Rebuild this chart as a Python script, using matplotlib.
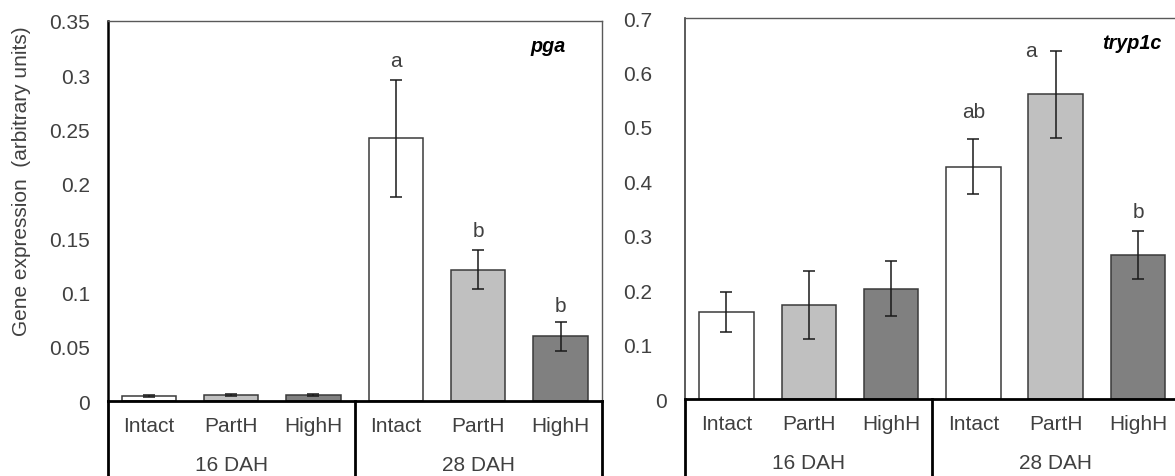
import matplotlib
matplotlib.use("Agg")
import matplotlib.pyplot as plt
from matplotlib.lines import Line2D
from matplotlib.transforms import ScaledTranslation

# ---- data ----
groups = ["16 DAH", "28 DAH"]
treatments = ["Intact", "PartH", "HighH"]

pga_mean = [0.0043, 0.0055, 0.0055, 0.242, 0.121, 0.0596]
pga_err = [0.001, 0.001, 0.001, 0.054, 0.018, 0.0134]
pga_letters = ["", "", "", "a", "b", "b"]

tryp_mean = [0.160, 0.173, 0.203, 0.427, 0.560, 0.264]
tryp_err = [0.036, 0.063, 0.050, 0.050, 0.080, 0.044]
tryp_letters = ["", "", "", "ab", "a", "b"]

pga_ticks = [0, 0.05, 0.1, 0.15, 0.2, 0.25, 0.3, 0.35]
pga_ticklabels = ["0", "0.05", "0.1", "0.15", "0.2", "0.25", "0.3", "0.35"]
tryp_ticks = [0, 0.1, 0.2, 0.3, 0.4, 0.5, 0.6, 0.7]
tryp_ticklabels = ["0", "0.1", "0.2", "0.3", "0.4", "0.5", "0.6", "0.7"]

# ---- style ----
plt.rcParams["font.family"] = ["Liberation Sans", "DejaVu Sans"]
FS = 15
TXT = "#404040"
bar_colors = ["#FFFFFF", "#C0C0C0", "#808080"] * 2
# letter offsets (points) from the top of each error bar
pga_letter_off = [(0, 0), (0, 0), (0, 0), (0, 13.7), (0, 13.9), (0, 11.7)]
tryp_letter_off = [(0, 0), (0, 0), (0, 0), (0, 20.2), (-17.6, 0), (0, 14.4)]

fig = plt.figure(figsize=(11.75, 4.77), dpi=100)
ax1 = fig.add_axes([0.0915, 0.1572, 0.4206, 0.7967])
ax2 = fig.add_axes([0.5832, 0.1614, 0.4203, 0.7987])

x = list(range(6))
xlabels = treatments * 2


def draw_panel(ax, means, errs, letters, offs, ticks, ticklabels, ymax,
               title, title_xy, ypad, left_spine_color, left_spine_lw):
    ax.bar(x, means, width=0.66, color=bar_colors, edgecolor="#3a3a3a",
           linewidth=1.1, zorder=2)
    ax.errorbar(x, means, yerr=errs, fmt="none", ecolor="#1a1a1a",
                elinewidth=1.1, capsize=4.3, capthick=1.1, zorder=3)
    for xi, m, e, lab, off in zip(x, means, errs, letters, offs):
        if lab:
            ax.annotate(lab, (xi, m + e), xytext=off, textcoords="offset points",
                        ha="center", va="center", fontsize=FS, color=TXT)
    ax.set_xlim(-0.5, 5.5)
    ax.set_ylim(0, ymax)
    ax.set_yticks(ticks, ticklabels)
    ax.set_xticks(x, xlabels)
    ax.tick_params(axis="y", length=0, pad=ypad, labelsize=FS, labelcolor=TXT)
    ax.tick_params(axis="x", length=0, pad=17.8, labelsize=FS, labelcolor=TXT)
    for lab in ax.get_xticklabels():
        lab.set_va("center")
    for s in ("top", "right"):
        ax.spines[s].set_color("#595959")
        ax.spines[s].set_linewidth(1.0)
    ax.spines["left"].set_color(left_spine_color)
    ax.spines["left"].set_linewidth(left_spine_lw)
    ax.spines["bottom"].set_color("black")
    ax.spines["bottom"].set_linewidth(2.0)
    # category-axis dividers below the zero line
    for xv in (-0.5, 2.5, 5.5):
        ax.add_line(Line2D([xv, xv], [0, -0.3],
                           transform=ax.get_xaxis_transform(),
                           color="black", linewidth=2.0, clip_on=False))
    # group labels
    for gi, g in enumerate(groups):
        ax.annotate(g, (3 * gi + 1, 0), xycoords=("data", "axes fraction"),
                    xytext=(0, -45.4), textcoords="offset points",
                    ha="center", va="center", fontsize=FS, color=TXT)
    ax.text(title_xy[0], title_xy[1], title, transform=ax.transAxes,
            ha="center", va="center", fontsize=FS - 0.8, fontweight="bold",
            fontstyle="italic", color="black")


draw_panel(ax1, pga_mean, pga_err, pga_letters, pga_letter_off,
           pga_ticks, pga_ticklabels, 0.35, "pga", (0.891, 0.935), 12.6,
           "black", 1.8)
draw_panel(ax2, tryp_mean, tryp_err, tryp_letters, tryp_letter_off,
           tryp_ticks, tryp_ticklabels, 0.7, "tryp1c", (0.905, 0.937), 24.0,
           "#404040", 1.2)

# the zero label on the right panel sits closer to the axis
zero_lab = ax2.get_yticklabels()[0]
zero_lab.set_transform(zero_lab.get_transform()
                       + ScaledTranslation(15 / 100, 0, fig.dpi_scale_trans))

fig.text(22 / 1175, 1 - 181 / 477, "Gene expression  (arbitrary units)",
         rotation=90, ha="center", va="center", fontsize=FS, color=TXT)

fig.savefig("out.png", dpi=100)
